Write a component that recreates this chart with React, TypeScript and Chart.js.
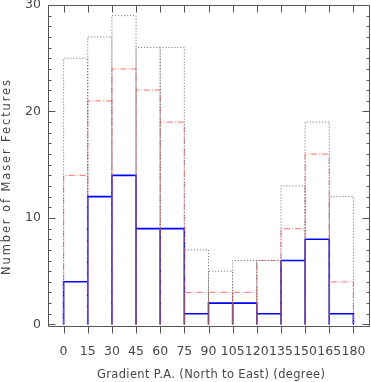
import React, { useEffect, useRef } from "react";
import { Chart, registerables } from "chart.js";

Chart.register(...registerables);

// Bin edges (degrees) and counts per 15-degree bin
const binEdges = [0, 15, 30, 45, 60, 75, 90, 105, 120, 135, 150, 165, 180];
const totalCounts = [25, 27, 29, 26, 26, 7, 5, 6, 6, 13, 19, 12];
const redCounts = [14, 21, 24, 22, 19, 3, 3, 3, 6, 9, 16, 4];
const blueCounts = [4, 12, 14, 9, 9, 1, 2, 2, 1, 6, 8, 1];
const xTickValues = [0, 15, 30, 45, 60, 75, 90, 105, 120, 135, 150, 165, 180];
const yTickValues = [0, 10, 20, 30];
const yMinorStep = 1;

const xTitle = "Gradient P.A. (North to East) (degree)";
const yTitle = "Number of Maser Fectures";

function outline(counts: number[]) {
  const pts: { x: number; y: number | null }[] = [];
  counts.forEach((c, i) => {
    const a = binEdges[i];
    const b = binEdges[i + 1];
    pts.push({ x: a, y: 0 }, { x: a, y: c }, { x: b, y: c }, { x: b, y: 0 }, { x: b, y: null });
  });
  return pts;
}

const FONT = "'DejaVu Sans', sans-serif";
const TEXT = "#474747";

function spacedText(ctx: CanvasRenderingContext2D, text: string, target: number) {
  (ctx as any).letterSpacing = "0px";
  const w = ctx.measureText(text).width;
  const sp = Math.max(0, (target - w) / (text.length - 1));
  (ctx as any).letterSpacing = sp + "px";
  return w + sp * (text.length - 1);
}

const framePlugin = {
  id: "frame",
  afterDraw(chart: any) {
    const { ctx, chartArea, scales } = chart;
    const x = scales.x;
    const y = scales.y;
    const L = Math.round(chartArea.left) + 0.5;
    const R = Math.round(chartArea.right) - 0.5;
    const T = Math.round(chartArea.top) + 0.5;
    const B = Math.round(chartArea.bottom) + 0.5;
    ctx.save();
    ctx.strokeStyle = "#555";
    ctx.lineWidth = 1;
    ctx.beginPath();
    ctx.rect(L, T, R - L, B - T);
    ctx.stroke();
    ctx.beginPath();
    xTickValues.forEach((v) => {
      const px = Math.round(x.getPixelForValue(v)) + 0.5;
      ctx.moveTo(px, T);
      ctx.lineTo(px, T + 7);
      ctx.moveTo(px, B);
      ctx.lineTo(px, B + 7);
    });
    const yMax = yTickValues[yTickValues.length - 1];
    for (let v = yTickValues[0]; v <= yMax + 1e-9; v += yMinorStep) {
      const py = Math.round(y.getPixelForValue(v)) + 0.5;
      const major = yTickValues.includes(v);
      const len = major ? 7 : 3;
      ctx.moveTo(L, py);
      ctx.lineTo(L + len, py);
      ctx.moveTo(R, py);
      ctx.lineTo(R - len, py);
    }
    ctx.stroke();

    // axis titles
    ctx.fillStyle = TEXT;
    ctx.textAlign = "left";
    ctx.textBaseline = "middle";
    ctx.font = `11.5px ${FONT}`;
    const xw = spacedText(ctx, xTitle, 228);
    const xc = (chartArea.left + chartArea.right) / 2 + 2.5;
    ctx.fillText(xTitle, xc - xw / 2, 375);

    ctx.font = `11.5px ${FONT}`;
    const yw = spacedText(ctx, yTitle, 195);
    ctx.translate(7.5, 177.5);
    ctx.rotate(-Math.PI / 2);
    ctx.fillText(yTitle, -yw / 2, 0);
    ctx.restore();
  },
};

export default function App() {
  const ref = useRef<HTMLCanvasElement | null>(null);
  useEffect(() => {
    document.body.style.margin = "0";
    const canvas = ref.current!;
    const chart = new Chart(canvas, {
      type: "line",
      data: {
        datasets: [
          {
            label: "all",
            data: outline(totalCounts),
            borderColor: "#666",
            borderWidth: 1,
            borderDash: [1, 2],
            pointRadius: 0,
            spanGaps: false,
            fill: false,
          },
          {
            label: "red",
            data: outline(redCounts),
            borderColor: "rgba(255,90,90,0.7)",
            borderWidth: 1.2,
            borderDash: [6, 2, 1, 2],
            pointRadius: 0,
            spanGaps: false,
            fill: false,
          },
          {
            label: "blue",
            data: outline(blueCounts),
            borderColor: "#0000ff",
            borderWidth: 1.6,
            pointRadius: 0,
            spanGaps: false,
            fill: false,
          },
        ] as any,
      },
      options: {
        responsive: false,
        animation: false,
        events: [],
        layout: { padding: { top: 5, right: 1.5, left: 0, bottom: 0 } },
        plugins: { legend: { display: false }, tooltip: { enabled: false } },
        scales: {
          x: {
            type: "linear",
            min: -10,
            max: 190,
            grid: { display: false, drawTicks: false },
            border: { display: false },
            afterBuildTicks: (s: any) => {
              s.ticks = xTickValues.map((v) => ({ value: v }));
            },
            afterFit: (s: any) => {
              s.height = 56;
              s.paddingLeft = 0;
              s.paddingRight = 0;
            },
            ticks: {
              autoSkip: false,
              maxRotation: 0,
              minRotation: 0,
              padding: 18,
              color: TEXT,
              font: { family: FONT, size: 12.5 },
            },
          },
          y: {
            type: "linear",
            min: -0.15,
            max: 30,
            grid: { display: false, drawTicks: false },
            border: { display: false },
            afterBuildTicks: (s: any) => {
              s.ticks = yTickValues.map((v) => ({ value: v }));
            },
            afterFit: (s: any) => {
              s.width = 47.5;
              s.paddingTop = 0;
              s.paddingBottom = 0;
            },
            ticks: {
              padding: 6.5,
              color: TEXT,
              font: { family: FONT, size: 12.5 },
            },
          },
        },
      },
      plugins: [framePlugin],
    });
    return () => chart.destroy();
  }, []);
  return <canvas ref={ref} width={371} height={382} style={{ display: "block" }} />;
}
